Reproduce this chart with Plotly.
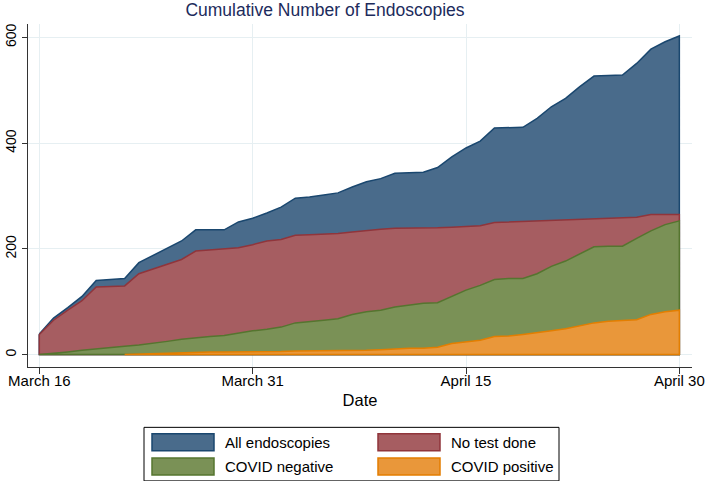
import pandas as pd
import plotly.graph_objects as go

# ---------------- data ----------------
dates = pd.date_range("2020-03-16", "2020-04-30", freq="D")

all_endoscopies = [39, 69, 89, 110, 140, 142, 144, 174, 188, 202,
                   215, 236, 236, 236, 251, 258, 268, 279, 296, 298,
                   302, 306, 317, 327, 333, 343, 344, 345, 354, 374,
                   391, 404, 429, 430, 430, 447, 469, 485, 507, 527,
                   528, 529, 551, 578, 592, 603]

no_test_done = [38, 65, 84, 102, 128, 129, 130, 153, 162, 171,
                180, 196, 198, 199, 202, 208, 215, 218, 226, 227,
                228, 229, 232, 235, 237, 239, 239, 240, 240, 241,
                242, 244, 250, 251, 252, 253, 254, 256, 257, 258,
                259, 260, 260, 265, 265, 265]

covid_negative = [0, 2, 5, 8, 11, 13, 16, 18, 21, 25,
                  29, 32, 34, 36, 41, 45, 48, 52, 60, 62,
                  65, 68, 76, 81, 84, 90, 93, 97, 98, 110,
                  122, 131, 142, 144, 144, 153, 167, 177, 191, 204,
                  205, 205, 220, 234, 246, 253]

covid_positive = [None, None, None, None, None, None, 0, 1, 2, 3,
                  4, 4, 5, 5, 5, 5, 6, 6, 7, 7,
                  7, 8, 8, 8, 9, 11, 12, 12, 14, 21,
                  24, 27, 34, 35, 38, 41, 45, 49, 55, 60,
                  63, 64, 66, 76, 81, 84]

series_names = ["All endoscopies", "No test done", "COVID negative", "COVID positive"]
tick_dates = ["2020-03-16", "2020-03-31", "2020-04-15", "2020-04-30"]
tick_labels = ["March 16", "March 31", "April 15", "April 30"]
y_ticks = [0, 200, 400, 600]

# ---------------- styles ----------------
fill_colors = ["#496b8b", "#a65d61", "#7a9156", "#e9973a"]
line_colors = ["#1a476f", "#90353b", "#55752f", "#e37e00"]
FONT = "Liberation Sans, Arial, Helvetica, sans-serif"

W, H = 705, 481
L, R, T, B = 28, 692, 24, 366.7   # plot area in pixels


def px_x(p):
    return (p - L) / (R - L)


def px_y(p):
    return (B - p) / (B - T)


fig = go.Figure()
for name, vals, fc, lc in zip(series_names,
                              [all_endoscopies, no_test_done, covid_negative, covid_positive],
                              fill_colors, line_colors):
    xs = [d for d, v in zip(dates, vals) if v is not None]
    ys = [v for v in vals if v is not None]
    # closed area outline (top edge, down the right side, along the base)
    px = list(xs) + [xs[-1], xs[0], xs[0]]
    py = list(ys) + [0, 0, ys[0]]
    fig.add_trace(go.Scatter(x=px, y=py, name=name, mode="lines",
                             fill="toself", fillcolor=fc,
                             line=dict(color=lc, width=1.5),
                             hoverinfo="skip", showlegend=False))

# ---------------- legend (Stata-style boxed key, two columns) ----------------
shapes = [dict(type="rect", xref="paper", yref="paper",
               x0=px_x(144), x1=px_x(559), y0=px_y(480.5), y1=px_y(427),
               line=dict(color="#000000", width=1), fillcolor="white", layer="above")]
annotations = []
col_x = [152, 378]
row_y = [442, 466]
for i, (name, fc, lc) in enumerate(zip(series_names, fill_colors, line_colors)):
    cx = col_x[i % 2]
    cy = row_y[i // 2]
    shapes.append(dict(type="rect", xref="paper", yref="paper",
                       x0=px_x(cx), x1=px_x(cx + 62), y0=px_y(cy + 8.5), y1=px_y(cy - 8.5),
                       line=dict(color=lc, width=1.5), fillcolor=fc, layer="above"))
    annotations.append(dict(text=name, xref="paper", yref="paper",
                            x=px_x(cx + 71), y=px_y(cy), xanchor="left", yanchor="middle",
                            showarrow=False, font=dict(size=15, color="#000000")))

x0 = pd.Timestamp("2020-03-16")
fig.update_layout(
    width=W, height=H,
    paper_bgcolor="white", plot_bgcolor="white",
    margin=dict(l=L, r=W - R, t=T, b=H - B, autoexpand=False),
    font=dict(family=FONT, size=15, color="#000000"),
    title=dict(text="Cumulative Number of Endoscopies", x=325 / W, xanchor="center",
               xref="container", y=1 - 10 / H, yanchor="middle", pad=dict(t=0, b=0),
               font=dict(family=FONT, size=17.5, color="#1c2b5c")),
    xaxis=dict(type="date", automargin=False,
               range=[x0 - pd.Timedelta(days=0.795), x0 + pd.Timedelta(days=45.89)],
               tickvals=tick_dates, ticktext=tick_labels, ticklabeloverflow="allow",
               ticklabelstandoff=-6,
               showgrid=True, gridcolor="#e6eff2", gridwidth=1,
               showline=True, linecolor="#333333", linewidth=1,
               ticks="outside", ticklen=6, tickcolor="#333333",
               zeroline=False, tickfont=dict(size=15),
               title=dict(text="Date", font=dict(size=16.5), standoff=6)),
    yaxis=dict(range=[-23.5, 625.6], tickvals=y_ticks, automargin=False,
               showgrid=True, gridcolor="#e6eff2", gridwidth=1,
               showline=True, linecolor="#333333", linewidth=1,
               ticks="outside", ticklen=5, tickcolor="#333333",
               zeroline=False, tickangle=-90, tickfont=dict(size=14)),
    showlegend=False,
    shapes=shapes,
    annotations=annotations,
)

fig.write_html("out.html", config={"displayModeBar": False},
               post_script="document.body.style.margin='0';document.body.style.overflow='hidden';")
